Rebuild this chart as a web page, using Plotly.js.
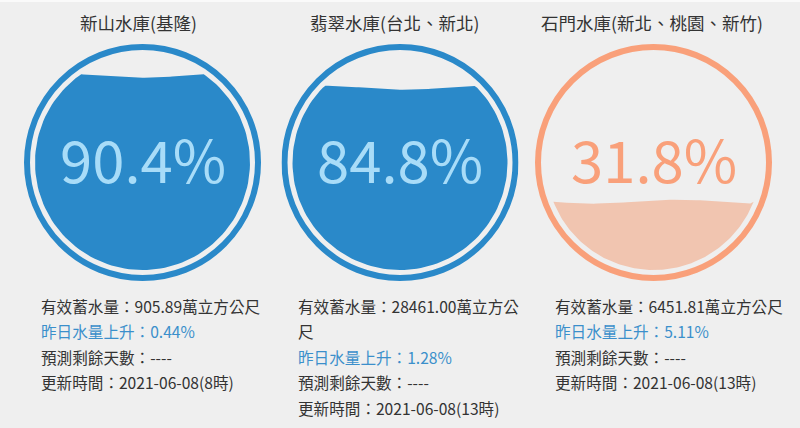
<!DOCTYPE html>
<html>
<head>
<meta charset="utf-8">
<script src="https://cdn.plot.ly/plotly-3.0.1.min.js"></script>
<style>html,body{margin:0;padding:0;background:#efefef;}#chart{width:800px;height:428px;}</style>
</head>
<body>
<div id="chart"></div>
<script>
// ---- data ----
const reservoirs = ['新山水庫(基隆)', '翡翠水庫(台北、新北)', '石門水庫(新北、桃園、新竹)'];
const percentFull = [90.4, 84.8, 31.8];
const storageWan = ['905.89', '28461.00', '6451.81'];
const dailyRise = [0.44, 1.28, 5.11];
const daysLeft = ['----', '----', '----'];
const updatedAt = ['2021-06-08(8時)', '2021-06-08(13時)', '2021-06-08(13時)'];

// ---- style / layout ----
const W = 800, H = 428;
const centersX = [142.5, 400, 653.5];
const centerY = 162.5;
const R = 118.5;                 // outer px radius (axis range [-1,1])
const ringW = 6;
const ringR = (R - ringW / 2) / R;
const innerR = 107.5 / R;
const titleX = [138, 394.5, 651.5];
const textX = [39, 296, 553];
const palettes = [
  {ring: '#2a89c9', fill: '#2a89c9', pct: '#a8dcf8'},
  {ring: '#2a89c9', fill: '#2a89c9', pct: '#a8dcf8'},
  {ring: '#f9a07a', fill: '#f1c5b0', pct: '#f9a07a'}
];
const FONT = '"Noto Sans CJK TC", "Noto Sans", sans-serif';
const dark = '#333333';
const blueText = '#3b8fcb';

const traces = [];
const shapes = [];
const annotations = [];
const layout = {
  width: W, height: H,
  margin: {l: 0, r: 0, t: 0, b: 0},
  paper_bgcolor: '#efefef',
  plot_bgcolor: 'rgba(0,0,0,0)',
  showlegend: false,
  font: {family: FONT, color: dark}
};

function wavePath(p, phase) {
  const level = -innerR + 2 * innerR * p / 100;
  const xe = Math.sqrt(Math.max(innerR * innerR - level * level, 0));
  const amp = 2.0 / R;
  const xs = [], ys = [];
  const N = 60;
  for (let i = 0; i <= N; i++) {
    const x = -xe + 2 * xe * i / N;
    const y = level + amp * Math.sin(2 * Math.PI * 1.4 * (x + 1) / 2 + phase);
    const lim = Math.sqrt(Math.max(innerR * innerR - x * x, 0));
    xs.push(x); ys.push(Math.max(Math.min(y, lim), -lim));
  }
  const thR = Math.atan2(level, xe);
  const thL = -Math.PI - thR;
  const M = 120;
  for (let i = 0; i <= M; i++) {
    const th = thR + (thL - thR) * i / M;
    xs.push(innerR * Math.cos(th)); ys.push(innerR * Math.sin(th));
  }
  return {xs, ys};
}

reservoirs.forEach((name, i) => {
  const k = i + 1;
  const xa = 'xaxis' + (k === 1 ? '' : k), ya = 'yaxis' + (k === 1 ? '' : k);
  const xr = 'x' + (k === 1 ? '' : k), yr = 'y' + (k === 1 ? '' : k);
  const cx = centersX[i];
  layout[xa] = {domain: [(cx - R) / W, (cx + R) / W], range: [-1, 1], visible: false, fixedrange: true, anchor: yr};
  layout[ya] = {domain: [(H - centerY - R) / H, (H - centerY + R) / H], range: [-1, 1], visible: false, fixedrange: true, anchor: xr};
  const pal = palettes[i];
  const w = wavePath(percentFull[i], [0.3, 0.1, 2.6][i]);
  traces.push({
    type: 'scatter', mode: 'lines', x: w.xs, y: w.ys, xaxis: xr, yaxis: yr,
    fill: 'toself', fillcolor: pal.fill, line: {width: 0, color: pal.fill}, hoverinfo: 'skip'
  });
  shapes.push({type: 'circle', xref: xr, yref: yr, x0: -ringR, x1: ringR, y0: -ringR, y1: ringR,
    line: {color: pal.ring, width: ringW}, fillcolor: 'rgba(0,0,0,0)', layer: 'below'});
  annotations.push({xref: xr, yref: yr, x: 0, y: 0.04, text: percentFull[i].toFixed(1) + '%',
    showarrow: false, xanchor: 'center', yanchor: 'middle', font: {family: FONT, size: 58, color: pal.pct}});
  annotations.push({xref: 'paper', yref: 'paper', x: titleX[i] / W, y: 1 - 23 / H, text: name,
    showarrow: false, xanchor: 'center', yanchor: 'middle', font: {family: FONT, size: 17.5, color: dark}});

  const lines = [];
  if (i === 1) {
    lines.push({t: '有效蓄水量：' + storageWan[i] + '萬立方公', c: dark});
    lines.push({t: '尺', c: dark});
  } else {
    lines.push({t: '有效蓄水量：' + storageWan[i] + '萬立方公尺', c: dark});
  }
  lines.push({t: '昨日水量上升：' + dailyRise[i].toFixed(2) + '%', c: blueText});
  lines.push({t: '預測剩餘天數：' + daysLeft[i], c: dark});
  lines.push({t: '更新時間：' + updatedAt[i], c: dark});
  lines.forEach((ln, j) => {
    const py = 306 + j * 25.4;
    annotations.push({xref: 'paper', yref: 'paper', x: textX[i] / W, y: 1 - py / H, text: ln.t,
      showarrow: false, xanchor: 'left', yanchor: 'middle', font: {family: FONT, size: 15.6, color: ln.c}});
  });
});

shapes.push({type: 'line', xref: 'paper', yref: 'paper', x0: 0, x1: 1, y0: 1 - 1 / H, y1: 1 - 1 / H,
  line: {color: '#fafafa', width: 2}});

layout.shapes = shapes;
layout.annotations = annotations;
Plotly.newPlot('chart', traces, layout, {staticPlot: true, displayModeBar: false});
</script>
</body>
</html>
